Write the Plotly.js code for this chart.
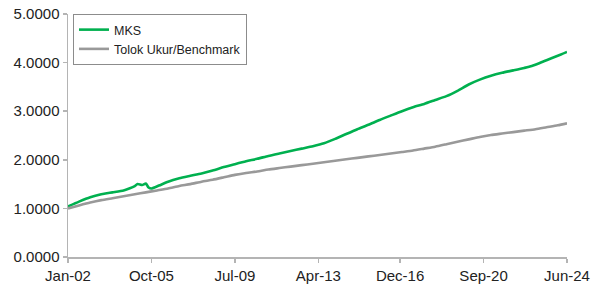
<!DOCTYPE html>
<html>
<head>
<meta charset="utf-8">
<script src="https://cdn.plot.ly/plotly-3.0.1.min.js"></script>
<style>
html,body{margin:0;padding:0;background:#fff;}
#chart{width:591px;height:286px;}
</style>
</head>
<body>
<div id="chart"></div>
<script>
const mksDates = ['2002-01-01','2002-07-01','2003-01-01','2003-07-01','2003-10-01','2004-01-01','2004-07-01','2004-10-01','2005-01-01','2005-02-15','2005-05-01','2005-07-01','2005-08-15','2005-10-01','2006-02-01','2006-07-01','2007-01-01','2007-07-01','2008-01-01','2008-07-01','2009-01-01','2009-07-01','2010-01-01','2010-07-01','2011-01-01','2011-07-01','2012-01-01','2012-07-01','2013-01-01','2013-07-01','2014-01-01','2014-07-01','2015-01-01','2015-07-01','2016-01-01','2016-07-01','2017-01-01','2017-07-01','2018-01-01','2018-07-01','2019-01-01','2019-07-01','2020-01-01','2020-07-01','2021-01-01','2021-07-01','2022-01-01','2022-07-01','2022-11-01','2023-07-01','2024-01-01','2024-06-01'];
const mksValues = [1.04,1.14,1.23,1.29,1.31,1.33,1.37,1.41,1.46,1.50,1.48,1.51,1.43,1.41,1.47,1.55,1.62,1.67,1.72,1.78,1.85,1.91,1.97,2.02,2.08,2.13,2.18,2.23,2.28,2.34,2.43,2.53,2.63,2.72,2.82,2.91,3.00,3.08,3.15,3.23,3.31,3.42,3.55,3.65,3.73,3.79,3.84,3.89,3.93,4.05,4.14,4.22];

const benchDates = ['2002-01-01','2002-07-01','2003-01-01','2003-07-01','2004-01-01','2004-07-01','2005-01-01','2005-07-01','2006-01-01','2006-07-01','2007-01-01','2007-07-01','2008-01-01','2008-07-01','2009-01-01','2009-07-01','2010-01-01','2010-07-01','2011-01-01','2011-07-01','2012-01-01','2012-07-01','2013-01-01','2013-07-01','2014-01-01','2014-07-01','2015-01-01','2015-07-01','2016-01-01','2016-07-01','2017-01-01','2017-07-01','2018-01-01','2018-07-01','2019-01-01','2019-07-01','2020-01-01','2020-07-01','2021-01-01','2021-07-01','2022-01-01','2022-07-01','2023-01-01','2023-07-01','2024-01-01','2024-06-01'];
const benchValues = [1.00,1.06,1.12,1.17,1.21,1.25,1.29,1.33,1.37,1.41,1.46,1.50,1.55,1.59,1.64,1.69,1.73,1.76,1.80,1.83,1.86,1.89,1.92,1.95,1.98,2.01,2.04,2.07,2.10,2.13,2.16,2.19,2.23,2.27,2.32,2.37,2.42,2.47,2.51,2.54,2.57,2.60,2.63,2.67,2.71,2.75];

const xTickVals = ['2002-01-01','2005-10-01','2009-07-01','2013-04-01','2016-12-01','2020-09-01','2024-06-01'];
const xTickText = ['Jan-02','Oct-05','Jul-09','Apr-13','Dec-16','Sep-20','Jun-24'];
const yTickVals = [0,1,2,3,4,5];
const yTickText = ['0.0000','1.0000','2.0000','3.0000','4.0000','5.0000'];

const traces = [
  {x: mksDates, y: mksValues, name: 'MKS', type: 'scatter', mode: 'lines',
   line: {color: '#00b04f', width: 2.6, shape: 'spline', smoothing: 0.6}},
  {x: benchDates, y: benchValues, name: 'Tolok Ukur/Benchmark', type: 'scatter', mode: 'lines',
   line: {color: '#999999', width: 2.6, shape: 'spline', smoothing: 0.6}}
];

const layout = {
  width: 591, height: 286,
  margin: {l: 68, r: 24, t: 14, b: 29},
  paper_bgcolor: '#ffffff', plot_bgcolor: '#ffffff',
  font: {family: 'Liberation Sans, Arial, sans-serif', size: 15, color: '#222222'},
  showlegend: true,
  legend: {x: 0.01, y: 1.0, xanchor: 'left', yanchor: 'top',
    bgcolor: '#ffffff', bordercolor: '#8c8c8c', borderwidth: 1,
    font: {size: 12.5, color: '#222222'}, tracegroupgap: 0, itemwidth: 30},
  xaxis: {type: 'date', range: ['2002-01-01','2024-06-01'],
    tickvals: xTickVals, ticktext: xTickText, tickmode: 'array',
    showgrid: false, zeroline: false, showline: true, linecolor: '#b4b4b4', linewidth: 1.5,
    ticks: 'outside', ticklen: 4, tickcolor: '#b4b4b4', tickwidth: 1.5,
    tickfont: {size: 15, color: '#222222'}},
  yaxis: {range: [0,5], tickvals: yTickVals, ticktext: yTickText, tickmode: 'array',
    showgrid: false, zeroline: false, showline: true, linecolor: '#b4b4b4', linewidth: 1.5,
    ticks: 'outside', ticklen: 4, tickcolor: '#b4b4b4', tickwidth: 1.5,
    tickfont: {size: 15, color: '#222222'}}
};

Plotly.newPlot('chart', traces, layout, {displayModeBar: false, staticPlot: true});
</script>
</body>
</html>
